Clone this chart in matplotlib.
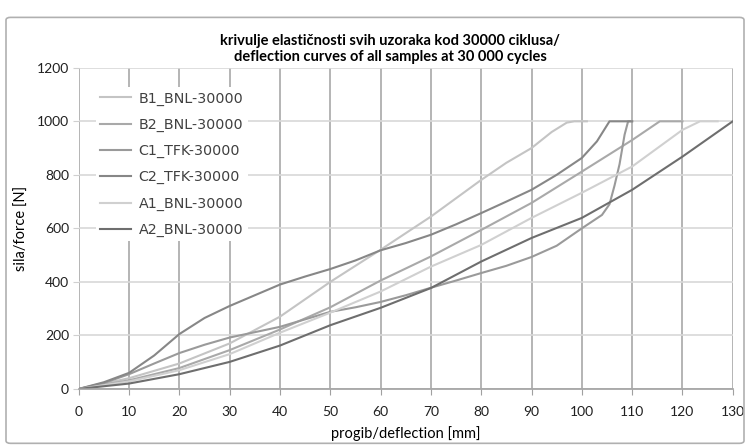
import matplotlib
matplotlib.use("Agg")
from matplotlib import pyplot as plt
from matplotlib.patches import FancyBboxPatch

# values (deflection mm, force N)
b1_x = [0, 10, 20, 30, 40, 50, 60, 70, 80, 85, 90, 94, 97, 98.5, 101]
b1_y = [0, 40, 95, 170, 270, 400, 520, 644, 781, 845, 900, 960, 995, 1000, 1000]

b2_x = [0, 10, 20, 30, 40, 50, 60, 70, 80, 90, 100, 110, 115.5, 120]
b2_y = [0, 32, 78, 145, 222, 305, 405, 495, 594, 695, 812, 930, 1000, 1000]

c1_x = [0, 5, 10, 15, 20, 25, 30, 35, 40, 45, 50, 55, 60, 65, 70, 75, 80, 85,
        90, 95, 100, 104, 105.5, 106.5, 107.5, 108.5, 109.2, 110]
c1_y = [0, 22, 55, 95, 134, 165, 192, 212, 232, 260, 288, 305, 325, 350, 378,
        405, 433, 460, 493, 535, 600, 650, 690, 760, 840, 950, 1000, 1000]

c2_x = [0, 5, 10, 15, 20, 25, 30, 35, 40, 45, 50, 55, 60, 65, 70, 75, 80, 85,
        90, 95, 100, 103, 105.5, 110]
c2_y = [0, 25, 60, 125, 205, 265, 310, 350, 390, 420, 448, 480, 518, 545, 576,
        615, 657, 700, 744, 800, 863, 925, 1000, 1000]

a1_x = [0, 10, 20, 30, 40, 50, 60, 70, 80, 90, 100, 110, 120, 123.5, 127]
a1_y = [0, 28, 70, 130, 210, 285, 364, 457, 538, 639, 733, 831, 968, 1000, 1000]

a2_x = [0, 10, 20, 30, 40, 50, 60, 70, 80, 90, 100, 110, 120, 130]
a2_y = [0, 20, 55, 101, 162, 238, 303, 377, 476, 564, 639, 744, 868, 1000]

labels = ["B1_BNL-30000", "B2_BNL-30000", "C1_TFK-30000",
          "C2_TFK-30000", "A1_BNL-30000", "A2_BNL-30000"]
colors = ["#c4c4c4", "#a9a9a9", "#9a9a9a", "#878787", "#d0d0d0", "#6e6e6e"]

xticks = list(range(0, 131, 10))
yticks = list(range(0, 1201, 200))

fig = plt.figure(figsize=(7.5, 4.46), dpi=100)
# chart area border
fig.patches.append(FancyBboxPatch((0.008, 0.006), 0.984, 0.955,
                                  boxstyle="round,pad=0,rounding_size=0.006",
                                  transform=fig.transFigure, fill=False,
                                  edgecolor="#b0b0b0", linewidth=1.2))

ax = fig.add_axes([0.105, 0.128, 0.872, 0.72])

series = [(b1_x, b1_y), (b2_x, b2_y), (c1_x, c1_y),
          (c2_x, c2_y), (a1_x, a1_y), (a2_x, a2_y)]
for (x, y), lab, c in zip(series, labels, colors):
    ax.plot(x, y, color=c, linewidth=1.5, label=lab)

ax.set_xlim(0, 130)
ax.set_ylim(0, 1200)
ax.set_xticks(xticks)
ax.set_yticks(yticks)
ax.grid(True, axis="x", color="#a8a8a8", linewidth=1.2)
ax.grid(True, axis="y", color="#d8d8d8", linewidth=1.2)
ax.set_axisbelow(True)
for s in ["top", "right", "left"]:
    ax.spines[s].set_visible(False)
ax.spines["bottom"].set_color("#a0a0a0")
ax.spines["bottom"].set_linewidth(1.2)
ax.tick_params(axis="x", direction="out", length=4, color="#a0a0a0", pad=8)
ax.tick_params(axis="y", direction="out", length=4, color="#d0d0d0", pad=3)

fnt = ["Lato", "DejaVu Sans"]
for t in ax.get_xticklabels() + ax.get_yticklabels():
    t.set_family(fnt)
    t.set_fontsize(10)
    t.set_color("#202020")

ax.set_xlabel("progib/deflection [mm]", fontsize=10.5, family=fnt,
              labelpad=6)
ax.set_ylabel("sila/force [N]", fontsize=10.5, family=fnt, labelpad=6)
fig.text(0.52, 0.89, "krivulje elastičnosti svih uzoraka kod 30000 ciklusa/\n"
         "deflection curves of all samples at 30 000 cycles",
         ha="center", va="center", fontsize=10.5, family=fnt,
         fontweight="bold", linespacing=1.15)

leg = ax.legend(loc="upper left", bbox_to_anchor=(0.015, 0.962),
                frameon=True, fontsize=10.3, handlelength=2.2,
                labelspacing=0.85, borderpad=0.3, handletextpad=0.5)
leg.get_frame().set_edgecolor("none")
leg.get_frame().set_facecolor("white")
leg.get_frame().set_alpha(1)
for t in leg.get_texts():
    t.set_color("#404040")

fig.savefig("out.png", dpi=100)
